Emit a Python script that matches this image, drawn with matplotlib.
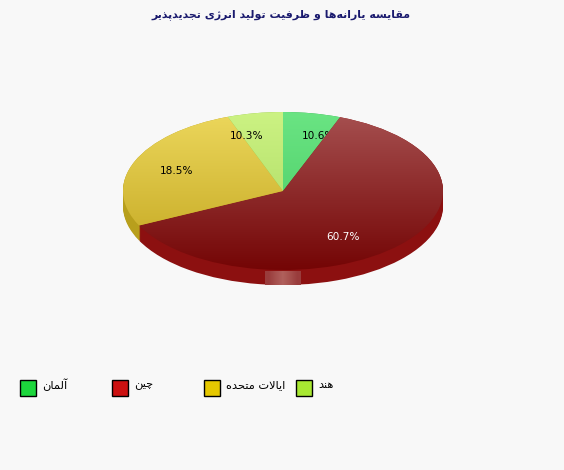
#!/usr/bin/env python3
# -*- coding: utf-8 -*-

import numpy as np
import matplotlib
matplotlib.use('Agg')
import matplotlib.pyplot as plt
from matplotlib.colors import LinearSegmentedColormap
from matplotlib.patches import Rectangle

title = 'مقایسه یارانه\u200cها و ظرفیت تولید انرژی تجدیدپذیر'
categories = ['آلمان', 'چین', 'ایالات متحده', 'هند']
# drawn slice sizes (the printed labels do not agree with them)
shares = [5.8, 62.0, 26.6, 5.6]
share_labels = ['10.6%', '60.7%', '18.5%', '10.3%']

legend_colors = ['#1cd63c', '#cc1111', '#e6c800', '#a8e832']
side_colors = ['#2fa84a', '#8c1010', '#b89f1c', '#8fc040']
top_colors = [('#6ae483', '#45c860'), ('#a65050', '#740505'),
              ('#ecd75c', '#c2a51e'), ('#ccf283', '#a5d65c')]
label_colors = ['black', 'white', 'black', 'black']
label_pos = [(302, 136), (326, 237), (160, 171), (230, 136)]
legend_x = [20, 112, 204, 296]

W, H = 564, 470
CX, CY, RX, RY, DEPTH = 283, 191, 160, 79, 15

# matplotlib has no arabic shaping, so pick the presentation forms by hand
DUAL = {'ب': 0xFE8F, 'پ': 0xFB56, 'ت': 0xFE95, 'ج': 0xFE9D, 'چ': 0xFB7A,
        'ح': 0xFEA1, 'س': 0xFEB1, 'ظ': 0xFEC5, 'ف': 0xFED1, 'ق': 0xFED5,
        'ل': 0xFEDD, 'م': 0xFEE1, 'ن': 0xFEE5, 'ه': 0xFEE9, 'ی': 0xFBFC}
RIGHT = {'ا': 0xFE8D, 'آ': 0xFE81, 'د': 0xFEA9, 'ذ': 0xFEAB, 'ر': 0xFEAD,
         'ز': 0xFEAF, 'ژ': 0xFB8A, 'و': 0xFEED, '\uFEFB': 0xFEFB}


def shape(text):
    text = text.replace('لا', '\uFEFB')
    out = []
    for i, c in enumerate(text):
        if c not in DUAL and c not in RIGHT:
            if c != '\u200c':
                out.append(c)
            continue
        before = text[i - 1] if i else ' '
        after = text[i + 1] if i + 1 < len(text) else ' '
        join_prev = before in DUAL
        join_next = c in DUAL and (after in DUAL or after in RIGHT)
        base = DUAL.get(c, RIGHT.get(c))
        offset = (1 if join_prev else 0) + (2 if join_next else 0)
        out.append(chr(base + offset))
    return ''.join(reversed(out))


fig = plt.figure(figsize=(W / 100, H / 100), dpi=100, facecolor='#f8f8f8')

ax = fig.add_axes([0, 0, 1, 1])
for d in range(DEPTH, 0, -1):
    ax.pie(shares, colors=side_colors, startangle=90, counterclock=False,
           center=(0, -d / RY), radius=1)
wedges, _ = ax.pie(shares, colors=side_colors, startangle=90, counterclock=False)

ramp = np.linspace(0, 1, 256).reshape(-1, 1)
for i, (wedge, pair) in enumerate(zip(wedges, top_colors)):
    cmap = LinearSegmentedColormap.from_list('top', pair)
    im = ax.imshow(ramp, cmap=cmap, extent=(-1, 1, -1, 1), aspect='auto',
                   origin='upper', zorder=3 + i)
    im.set_clip_path(wedge)

ax.set_aspect('auto')
ax.set_xlim(-CX / RX, (W - CX) / RX)
ax.set_ylim((CY - H) / RY, CY / RY)
ax.axis('off')

# overlay in picture pixels for the texts, the legend and the chart's little handle
over = fig.add_axes([0, 0, 1, 1])
over.set_xlim(0, W)
over.set_ylim(H, 0)
over.axis('off')

handle = np.array([[0.0, 0.55, 1.0, 0.55, 0.0]])
over.imshow(handle, cmap=LinearSegmentedColormap.from_list('h', ['#993c3c', '#b0605c']),
            extent=(265, 301, 285, 271), aspect='auto', interpolation='bilinear')
over.set_xlim(0, W)
over.set_ylim(H, 0)

# each label sits just above its own slice, so the red slice cuts off the 10.6% one
for i, text in enumerate(share_labels):
    ax.text(label_pos[i][0], label_pos[i][1], text, color=label_colors[i],
            transform=over.transData, family='DejaVu Sans', fontsize=7.6,
            ha='left', va='center', zorder=3.5 + i)

over.text(281, 15, shape(title), color='#1a1a6e', family='DejaVu Sans',
          fontweight='bold', fontsize=7.95, ha='center', va='center')

for i, name in enumerate(categories):
    over.add_patch(Rectangle((legend_x[i], 380), 16, 16, facecolor=legend_colors[i],
                             edgecolor='black', linewidth=1))
    over.text(legend_x[i] + 22, 385, shape(name), color='black', family='DejaVu Sans',
              fontsize=8.2, ha='left', va='center')

fig.savefig('out.png', dpi=100, facecolor=fig.get_facecolor())
